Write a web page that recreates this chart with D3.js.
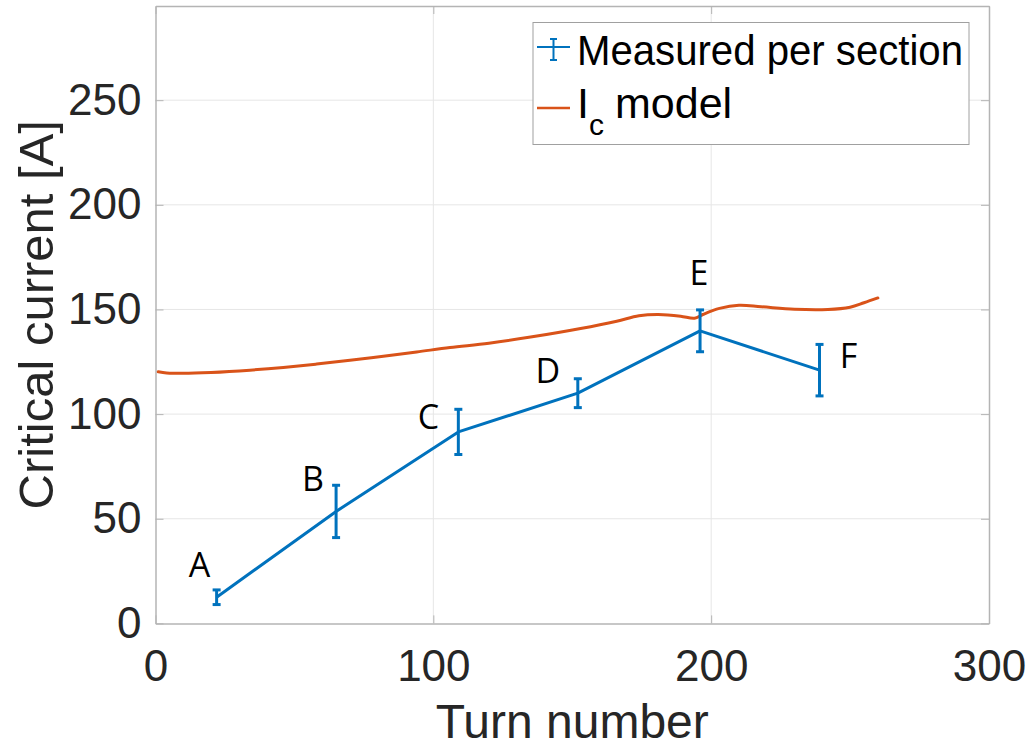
<!DOCTYPE html>
<html>
<head>
<meta charset="utf-8">
<script src="https://cdn.jsdelivr.net/npm/d3@7"></script>
<style>
    body { margin: 0; background: white; }
    svg { display: block; }
</style>
</head>
<body>
<div id="container"></div>
<script>
// measured critical current per section
const sections = ["A", "B", "C", "D", "E", "F"];
const sectionTurns = [22, 65, 109, 152, 196, 239];
const sectionIc = [12.5, 53.5, 91.5, 110, 139.8, 121];
const sectionErr = [3.5, 12.5, 10.8, 6.9, 10, 12.3];

// Ic model curve
const modelTurns = [1, 4, 10, 20, 34, 46, 58, 70, 82, 94, 106, 120, 135, 153, 166, 174, 181, 189, 194, 197, 203, 210, 218, 230, 242, 250, 255, 260];
const modelIc = [120.2, 119.7, 119.5, 119.9, 121, 122.3, 123.9, 125.7, 127.7, 129.7, 131.8, 133.9, 136.8, 140.9, 144.4, 147.0, 147.6, 146.8, 145.8, 147.6, 150.5, 152.0, 151.3, 150.1, 150.0, 151.1, 153.2, 155.5];

const xTicks = [0, 100, 200, 300];
const yTicks = [0, 50, 100, 150, 200, 250];

const width = 1030;
const height = 748;
const marginTop = 6;
const marginRight = 41;
const marginBottom = 124.6;
const marginLeft = 155.5;

const blue = "#0072BD";
const orange = "#D95319";
const axisColor = "#b4b4b4";
const textColor = "#262626";

const x = d3.scaleLinear()
    .domain([0, 300])
    .range([marginLeft, width - marginRight]);

const y = d3.scaleLinear()
    .domain([0, 295])
    .range([height - marginBottom, marginTop]);

const svg = d3.select("#container").append("svg")
    .attr("width", width)
    .attr("height", height)
    .attr("viewBox", [0, 0, width, height]);

// grid
svg.append("g")
    .attr("stroke", "#e6e6e6")
    .attr("stroke-width", 1)
    .call(g => g.selectAll("line.gx")
        .data(xTicks.slice(1, -1))
        .join("line")
        .attr("x1", d => x(d)).attr("x2", d => x(d))
        .attr("y1", y.range()[0]).attr("y2", y.range()[1]))
    .call(g => g.selectAll("line.gy")
        .data(yTicks.slice(1))
        .join("line")
        .attr("class", "gy")
        .attr("y1", d => y(d)).attr("y2", d => y(d))
        .attr("x1", x.range()[0]).attr("x2", x.range()[1]));

const font = "'Liberation Sans', Arial, Helvetica, sans-serif";

// axes (box with inward ticks)
const tickLen = 8;
svg.append("g")
    .attr("transform", `translate(0,${y.range()[0]})`)
    .call(d3.axisBottom(x).tickValues(xTicks).tickSizeInner(-tickLen).tickSizeOuter(0).tickPadding(26))
    .call(g => g.select(".domain").attr("stroke", axisColor).attr("stroke-width", 1.5))
    .call(g => g.selectAll(".tick line").attr("stroke", axisColor))
    .call(g => g.selectAll(".tick text")
        .attr("font-family", font).attr("font-size", 44).attr("fill", textColor));

svg.append("g")
    .attr("transform", `translate(${x.range()[0]},0)`)
    .call(d3.axisLeft(y).tickValues(yTicks).tickSizeInner(-tickLen).tickSizeOuter(0).tickPadding(14))
    .call(g => g.select(".domain").attr("stroke", axisColor).attr("stroke-width", 1.5))
    .call(g => g.selectAll(".tick line").attr("stroke", axisColor))
    .call(g => g.selectAll(".tick text")
        .attr("font-family", font).attr("font-size", 44).attr("fill", textColor));

svg.append("g")
    .attr("transform", `translate(0,${y.range()[1]})`)
    .call(d3.axisTop(x).tickValues(xTicks).tickSizeInner(-tickLen).tickSizeOuter(0).tickFormat(""))
    .call(g => g.select(".domain").attr("stroke", axisColor).attr("stroke-width", 1.5))
    .call(g => g.selectAll(".tick line").attr("stroke", axisColor));

svg.append("g")
    .attr("transform", `translate(${x.range()[1]},0)`)
    .call(d3.axisRight(y).tickValues(yTicks).tickSizeInner(-tickLen).tickSizeOuter(0).tickFormat(""))
    .call(g => g.select(".domain").attr("stroke", axisColor).attr("stroke-width", 1.5))
    .call(g => g.selectAll(".tick line").attr("stroke", axisColor));

// axis titles
svg.append("text")
    .attr("x", (x.range()[0] + x.range()[1]) / 2)
    .attr("y", 738)
    .attr("text-anchor", "middle")
    .attr("font-family", font)
    .attr("font-size", 48)
    .attr("fill", textColor)
    .text("Turn number");

svg.append("text")
    .attr("transform", `translate(53,${(y.range()[0] + y.range()[1]) / 2}) rotate(-90)`)
    .attr("text-anchor", "middle")
    .attr("font-family", font)
    .attr("font-size", 49)
    .attr("fill", textColor)
    .text("Critical current [A]");

// model curve
const modelData = modelTurns.map((t, i) => ({turn: t, ic: modelIc[i]}));
svg.append("path")
    .datum(modelData)
    .attr("fill", "none")
    .attr("stroke", orange)
    .attr("stroke-width", 3)
    .attr("stroke-linejoin", "round")
    .attr("stroke-linecap", "round")
    .attr("d", d3.line()
        .curve(d3.curveCatmullRom.alpha(0.5))
        .x(d => x(d.turn))
        .y(d => y(d.ic)));

// measured points
const measured = sections.map((s, i) => ({name: s, turn: sectionTurns[i], ic: sectionIc[i], err: sectionErr[i]}));

svg.append("path")
    .datum(measured)
    .attr("fill", "none")
    .attr("stroke", blue)
    .attr("stroke-width", 3)
    .attr("stroke-linejoin", "round")
    .attr("d", d3.line()
        .x(d => x(d.turn))
        .y(d => y(d.ic)));

const capW = 4;
const bars = svg.append("g")
    .attr("stroke", blue)
    .attr("stroke-width", 3)
    .selectAll("g")
    .data(measured)
    .join("g");

bars.append("line")
    .attr("x1", d => x(d.turn)).attr("x2", d => x(d.turn))
    .attr("y1", d => y(d.ic - d.err)).attr("y2", d => y(d.ic + d.err));
bars.append("line")
    .attr("x1", d => x(d.turn) - capW).attr("x2", d => x(d.turn) + capW)
    .attr("y1", d => y(d.ic - d.err)).attr("y2", d => y(d.ic - d.err));
bars.append("line")
    .attr("x1", d => x(d.turn) - capW).attr("x2", d => x(d.turn) + capW)
    .attr("y1", d => y(d.ic + d.err)).attr("y2", d => y(d.ic + d.err));

// section letters, offset in px from their point
const labelOffset = {A: [-17, -20], B: [-23, -20], C: [-30, -3], D: [-30, -10], E: [-1, -46], F: [29, -2]};
svg.append("g")
    .attr("font-family", "'Open Sans', Lato, sans-serif")
    .attr("font-size", 34)
    .attr("fill", "black")
    .attr("text-anchor", "middle")
    .selectAll("text")
    .data(measured)
    .join("text")
    .attr("x", d => x(d.turn) + labelOffset[d.name][0])
    .attr("y", d => y(d.ic) + labelOffset[d.name][1])
    .text(d => d.name);

// legend
const legend = svg.append("g");
legend.append("rect")
    .attr("x", 533).attr("y", 22.5)
    .attr("width", 436).attr("height", 122)
    .attr("fill", "white")
    .attr("stroke", "#a0a0a0")
    .attr("stroke-width", 1);

legend.append("line")
    .attr("x1", 537).attr("x2", 570)
    .attr("y1", 47).attr("y2", 47)
    .attr("stroke", blue).attr("stroke-width", 2);
legend.append("line")
    .attr("x1", 553.5).attr("x2", 553.5)
    .attr("y1", 39).attr("y2", 60)
    .attr("stroke", blue).attr("stroke-width", 2);
legend.append("line")
    .attr("x1", 550).attr("x2", 557)
    .attr("y1", 39).attr("y2", 39)
    .attr("stroke", blue).attr("stroke-width", 2);
legend.append("line")
    .attr("x1", 550).attr("x2", 557)
    .attr("y1", 60).attr("y2", 60)
    .attr("stroke", blue).attr("stroke-width", 2);
legend.append("text")
    .attr("x", 577).attr("y", 65)
    .attr("font-family", font)
    .attr("font-size", 43)
    .attr("textLength", 386)
    .attr("lengthAdjust", "spacingAndGlyphs")
    .attr("fill", "black")
    .text("Measured per section");

legend.append("line")
    .attr("x1", 537).attr("x2", 570)
    .attr("y1", 108).attr("y2", 108)
    .attr("stroke", orange).attr("stroke-width", 2.5);
const ic = legend.append("text")
    .attr("x", 577).attr("y", 118)
    .attr("font-family", font)
    .attr("font-size", 43)
    .attr("fill", "black");
ic.append("tspan").text("I");
ic.append("tspan").attr("dy", 17).attr("font-size", 30).text("c");
ic.append("tspan").attr("x", 615).attr("dy", -17).text("model");
</script>
</body>
</html>
